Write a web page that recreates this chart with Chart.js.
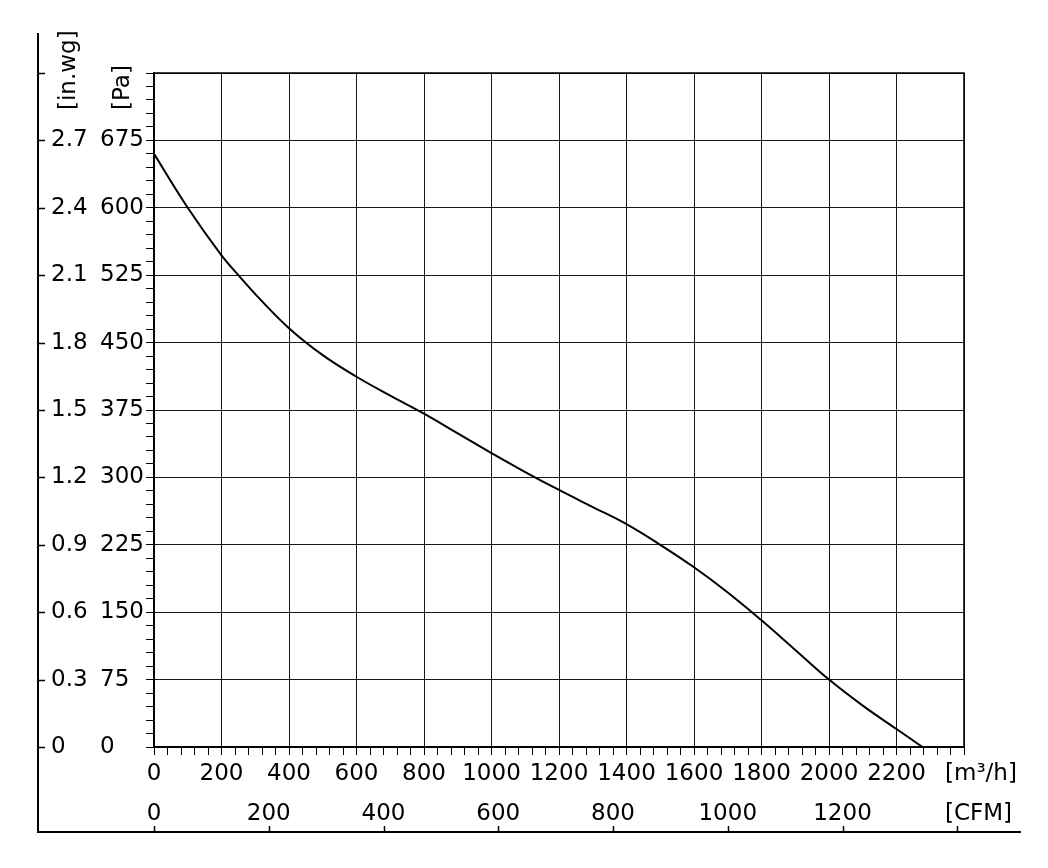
<!DOCTYPE html>
<html>
<head>
<meta charset="utf-8">
<script src="https://cdn.jsdelivr.net/npm/chart.js@4.4.1/dist/chart.umd.min.js"></script>
<style>
  html, body { margin: 0; padding: 0; background: #fff; }
  canvas { display: block; }
</style>
</head>
<body>
<canvas id="fanChart" width="1048" height="868"></canvas>
<script>
// fan curve
const flowM3h = [0, 100, 200, 250, 300, 400, 500, 600, 700, 800, 900, 1000, 1100, 1200, 1300, 1400, 1500, 1600, 1700, 1800, 1900, 2000, 2100, 2200, 2277];
const pressurePa = [660, 600, 547, 525, 504, 466, 436, 412, 391, 371, 349, 327, 306, 286, 267, 248, 225, 200, 172, 141, 108, 75, 46, 20, 0];

// axis labels
const flowTicks = [0, 200, 400, 600, 800, 1000, 1200, 1400, 1600, 1800, 2000, 2200];
const cfmTicks = [0, 200, 400, 600, 800, 1000, 1200];
const paTicks = [0, 75, 150, 225, 300, 375, 450, 525, 600, 675];
const inwgTicks = ['0', '0.3', '0.6', '0.9', '1.2', '1.5', '1.8', '2.1', '2.4', '2.7'];

const M3H_PER_CFM = 1.7;
const FONT = { family: 'DejaVu Sans', size: 23 };

Chart.defaults.font.family = 'DejaVu Sans';
Chart.defaults.color = '#000';

// frame lines, outer ticks and unit labels
const framePlugin = {
  id: 'frame',
  afterDraw(chart) {
    const c = chart.ctx;
    const a = chart.chartArea;
    const yPa = chart.scales.y;
    const xC = chart.scales.xCfm;
    c.save();
    c.strokeStyle = '#000';
    c.lineWidth = 1.5;
    c.strokeRect(a.left, a.top, a.right - a.left, a.bottom - a.top);

    c.lineWidth = 2;
    c.beginPath();
    c.moveTo(38, 33);
    c.lineTo(38, 832);
    c.lineTo(1021, 832);
    c.stroke();

    c.lineWidth = 1.5;
    c.beginPath();
    for (let v = 0; v <= 750; v += 75) {
      const py = Math.round(yPa.getPixelForValue(v)) + 0.5;
      c.moveTo(38, py);
      c.lineTo(45, py);
    }
    for (let v = 0; v <= 1400; v += 200) {
      const px = Math.round(xC.getPixelForValue(v)) + 0.5;
      c.moveTo(px, 832);
      c.lineTo(px, 826);
    }
    c.stroke();

    c.fillStyle = '#000';
    c.font = '23px "DejaVu Sans"';
    c.textBaseline = 'middle';
    c.textAlign = 'left';
    c.fillText('[m³/h]', 945, 774);
    c.fillText('[CFM]', 945, 814);

    c.save();
    c.translate(69, 110);
    c.rotate(-Math.PI / 2);
    c.fillText('[in.wg]', 0, 0);
    c.restore();
    c.save();
    c.translate(123, 110);
    c.rotate(-Math.PI / 2);
    c.fillText('[Pa]', 0, 0);
    c.restore();
    c.restore();
  }
};

new Chart(document.getElementById('fanChart'), {
  type: 'scatter',
  data: {
    datasets: [{
      data: flowM3h.map((f, i) => ({ x: f, y: pressurePa[i] })),
      showLine: true,
      borderColor: '#000',
      borderWidth: 2,
      pointRadius: 0,
      tension: 0.4
    }]
  },
  options: {
    responsive: false,
    animation: false,
    layout: { padding: { left: 51, top: 73, right: 84, bottom: 36 } },
    plugins: { legend: { display: false }, tooltip: { enabled: false } },
    scales: {
      x: {
        type: 'linear', position: 'bottom', min: 0, max: 2400,
        afterFit: s => { s.height = 33; },
        afterBuildTicks: s => { s.ticks = []; for (let v = 0; v <= 2400; v += 40) s.ticks.push({ value: v }); },
        grid: {
          color: ctx => (ctx.tick && ctx.tick.value % 200 === 0) ? '#1a1a1a' : 'rgba(0,0,0,0)',
          tickColor: '#000', tickLength: 8, lineWidth: 1
        },
        border: { color: '#000', width: 1.5 },
        ticks: {
          autoSkip: false, maxRotation: 0, padding: 5, font: FONT, color: '#000',
          callback: v => flowTicks.includes(v) ? String(v) : ''
        }
      },
      xCfm: {
        type: 'linear', position: 'bottom', weight: 1, min: 0, max: 2400 / M3H_PER_CFM,
        afterFit: s => { s.height = 52; },
        afterBuildTicks: s => { s.ticks = cfmTicks.map(v => ({ value: v })); },
        grid: { display: false, drawTicks: false },
        border: { display: false },
        ticks: {
          autoSkip: false, maxRotation: 0, padding: 20, font: FONT, color: '#000',
          callback: v => String(v)
        }
      },
      y: {
        type: 'linear', position: 'left', min: 0, max: 750,
        afterFit: s => { s.width = 54; },
        afterBuildTicks: s => { s.ticks = []; for (let v = 0; v <= 750; v += 15) s.ticks.push({ value: v }); },
        grid: {
          color: ctx => (ctx.tick && ctx.tick.value % 75 === 0) ? '#1a1a1a' : 'rgba(0,0,0,0)',
          tickColor: '#000', tickLength: 8, lineWidth: 1
        },
        border: { color: '#000', width: 1.5 },
        ticks: {
          autoSkip: false, crossAlign: 'far', font: FONT, color: '#000',
          callback: v => paTicks.includes(v) ? String(v) : ''
        }
      },
      yIn: {
        type: 'linear', position: 'left', weight: 1, min: 0, max: 750,
        afterFit: s => { s.width = 49; },
        afterBuildTicks: s => { s.ticks = paTicks.map(v => ({ value: v })); },
        grid: { display: false, drawTicks: false },
        border: { display: false },
        ticks: {
          autoSkip: false, crossAlign: 'far', font: FONT, color: '#000',
          callback: (v, i) => inwgTicks[i]
        }
      }
    }
  },
  plugins: [framePlugin]
});
</script>
</body>
</html>
